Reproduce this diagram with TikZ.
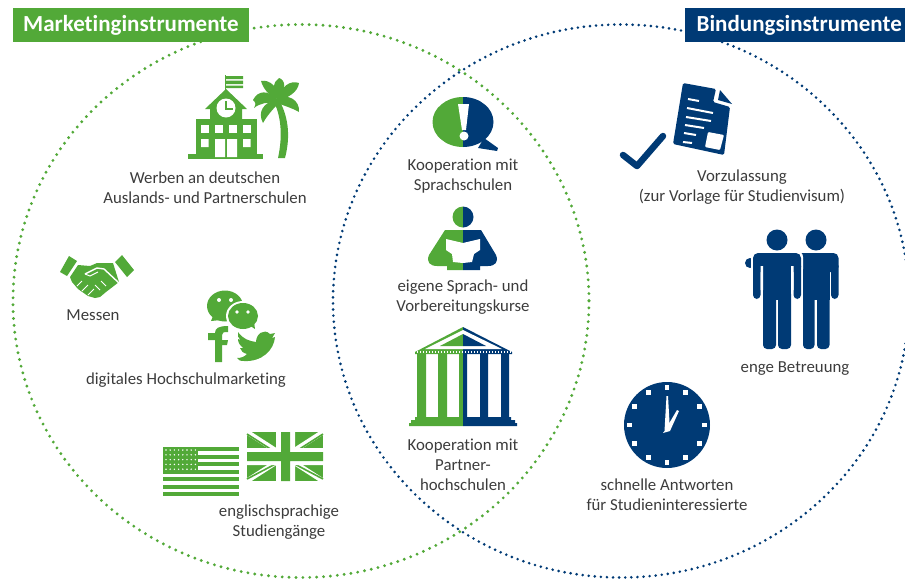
\documentclass[tikz,border=0pt]{standalone}
\usepackage{fontspec}
\usetikzlibrary{calc}
\setmainfont{Carlito}[Ligatures=NoCommon]
\definecolor{hgreen}{HTML}{52A938}
\definecolor{hblue}{HTML}{003A75}
\definecolor{txt}{HTML}{3C3C3C}
\tikzset{
 lab/.style={text=txt,align=center,font=\fontsize{16.8}{20}\selectfont,inner sep=0pt},
 head/.style={text=white,font=\fontsize{23}{26}\selectfont\bfseries,inner sep=0pt,minimum height=34.5pt,anchor=north west},
 ring/.style={line cap=round},
 gf/.style={fill=hgreen,draw=none},
 bf/.style={fill=hblue,draw=none},
 wf/.style={fill=white,draw=none},
}
\begin{document}
\begin{tikzpicture}[x=1pt,y=-1pt]
\useasboundingbox (0,0) rectangle (905,579);
% rings
\draw[ring,hgreen,line width=3.2pt,dash pattern=on 0pt off 6.9pt] (301,301) ellipse[x radius=288,y radius=276.5];
\draw[ring,hblue,line width=2.9pt,dash pattern=on 0pt off 6.1pt] (621,301) ellipse[x radius=288,y radius=276.5];
% headers
\node[head,fill=hgreen,minimum width=235.5pt] (hm) at (13,7.5) {\raisebox{-1pt}{Marketinginstrumente}};
\node[head,fill=hblue,minimum width=228pt] (hb) at (685,7.5) {\raisebox{-1pt}{Bindungsinstrumente}};
% school
\fill[gf] (188,154) rectangle (263,159);
\fill[gf] (196,119) rectangle (257,155);
\fill[gf] (226,89) -- (247,109) -- (242,109) -- (242,120) -- (210,120) -- (210,109) -- (205,109) -- cycle;
\fill[gf] (225,75) rectangle (226,90);
\fill[gf] (226,76) rectangle (243,79) (226,80.5) rectangle (243,84) (226,85.5) rectangle (243,88);
\fill[wf] (226,108) circle[radius=9.5];
\draw[hgreen,line width=1.2pt] (226,101) -- (226,109) -- (233,109);
\foreach \a in {201,215,229,243} \fill[wf] (\a,125) rectangle ++(7.5,8);
\fill[wf] (201,139) rectangle ++(7.5,8) (243,139) rectangle ++(7.5,8);
\fill[wf] (215,139) rectangle (225,157) (227,139) rectangle (237,157);
% palm
\fill[gf] (278,98) .. controls (288,115) and (291,135) .. (285,158) -- (278,158) .. controls (283,135) and (281,115) .. (273,100) -- cycle;
\fill[gf] (277,99) .. controls (268,90) and (258,90) .. (253,100) .. controls (256,103) and (256,104) .. (254,108) .. controls (260,103) and (268,102) .. (275,103) -- cycle;
\fill[gf] (277,99) .. controls (268,95) and (263,88) .. (261,81) .. controls (270,79) and (278,88) .. (279,97) -- cycle;
\fill[gf] (277,99) .. controls (272,90) and (273,82) .. (279,78) .. controls (286,80) and (286,90) .. (279,98) -- cycle;
\fill[gf] (277,99) .. controls (282,86) and (290,80) .. (299,83) .. controls (298,92) and (288,98) .. (279,100) -- cycle;
\fill[gf] (277,99) .. controls (288,93) and (300,100) .. (299,112) .. controls (292,108) and (285,106) .. (277,103) -- cycle;
\fill[gf] (276,100) .. controls (264,102) and (257,112) .. (263,123) .. controls (267,116) and (272,110) .. (278,104) -- cycle;
% handshake
\fill[gf] (69,256) -- (77,261) -- (67,276) -- (60,272) -- cycle;
\fill[gf] (122,255) -- (134,270) -- (127,277) -- (115,262) -- cycle;
\fill[gf] (78,265) -- (90,266) -- (97,263) -- (113,263) -- (119,282) -- (106,292) -- (100,297) -- (95,298) -- (88,296) -- (78,289) -- (72,282) -- (70,277) -- cycle;
\draw[white,line width=1.4pt] (85,274) -- (97,268) -- (104,269) -- (119,283);
\draw[white,line width=1pt] (85,274) -- (90,276) -- (98,272);
\draw[white,line width=1pt] (77,286) -- (82,281) (82,291) -- (88,285) (88,295) -- (94,289) (100,290) -- (95,285) (106,286) -- (101,281);
% social
\fill[gf] (225,306) ellipse[x radius=18,y radius=15.5];
\fill[gf] (213,316) -- (211,321) -- (221,320) -- cycle;
\fill[wf] (243,316) ellipse[x radius=17,y radius=15];
\fill[gf] (243,316) ellipse[x radius=15,y radius=13];
\fill[gf] (249,325) -- (255,329) -- (254,322) -- cycle;
\fill[wf] (219,300) circle[radius=2] (231,300) circle[radius=2] (237,312) circle[radius=1.8] (248,312) circle[radius=1.8];
\fill[gf] (215,362) -- (215,340) -- (208,340) -- (208,333) -- (215,333) .. controls (215,328) and (219,326) .. (228,326) -- (228,332) .. controls (224,332) and (222,332) .. (222,335) -- (222,340) -- (228,340) -- (227,345) -- (222,345) -- (222,362) -- cycle;
\fill[gf] (238,332) .. controls (243,339) and (249,341) .. (256,342) .. controls (256,334) and (264,328) .. (270,334) -- (275,333) -- (272,338) -- (275,337) .. controls (274,350) and (262,362) .. (244,361) .. controls (240,361) and (238,360) .. (237,358) .. controls (241,358) and (244,357) .. (247,354) .. controls (243,353) and (241,351) .. (240,348) -- (243,348) .. controls (240,345) and (238,343) .. (238,339) -- (241,340) .. controls (238,338) and (237,335) .. (238,332) -- cycle;
% US flag
\foreach \a in {447,454.5,462,469.5,477,484.5,492} \fill[gf] (163,\a) rectangle (239,\a+4);
\fill[gf] (163,447) rectangle (198,472);
\foreach \p in {0,...,4} \foreach \q in {0,...,7} \fill[wf] (166+\q*4.2,450+\p*4.8) circle[radius=.8];
% UK flag
\fill[gf] (247,432) rectangle (323,481);
\draw[white,line width=5pt] (247,432) -- (323,481) (323,432) -- (247,481);
\draw[hgreen,line width=1.6pt] (247,434) -- (283,457) (287,460) -- (323,479) (323,434) -- (287,457) (283,460) -- (247,479);
\fill[wf] (276,432) rectangle (295,481) (247,448) rectangle (323,465);
\fill[gf] (281,432) rectangle (290,481) (247,452) rectangle (323,461);
% speech bubble
\fill[hgreen] (463,97) arc[start angle=-90,end angle=-270,x radius=30.5,y radius=25] -- cycle;
\fill[hblue] (463,97) arc[start angle=-90,end angle=90,x radius=30.5,y radius=25] -- (463,147) -- cycle;
\fill[hblue] (484,138) -- (498,148) -- (497,151) -- (478,148) -- cycle;
\fill[wf] (458,104) -- (469,104) -- (466,130) -- (462,130) -- cycle;
\fill[wf] (464,136) circle[radius=4.5];
% reader
\fill[hgreen] (463,206.5) arc[start angle=-90,end angle=-270,radius=10.5] -- cycle;
\fill[hblue] (463,206.5) arc[start angle=-90,end angle=90,radius=10.5] -- cycle;
\fill[hgreen] (463,230) -- (445,230) -- (429,255) .. controls (426,262) and (430,266) .. (437,266) -- (447,266) -- (447,270) -- (463,270) -- cycle;
\fill[hblue] (463,230) -- (481,230) -- (496,255) .. controls (499,262) and (495,266) .. (488,266) -- (480,266) -- (480,270) -- (463,270) -- cycle;
\fill[wf] (446,239) -- (463,243) -- (480,239) -- (480,250) -- (474,254) -- (472,262) -- (463,263) -- (453,262) -- (452,254) -- (446,250) -- cycle;
% temple
\fill[hgreen] (463,327) -- (415,352) -- (415,354) -- (463,354) -- cycle;
\fill[hblue] (463,327) -- (512,352) -- (512,354) -- (463,354) -- cycle;
\fill[wf] (463,330) -- (425,349) -- (502,349) -- cycle;
\fill[hgreen] (463,334) -- (440,346) -- (463,346) -- cycle;
\fill[hblue] (463,334) -- (486,346) -- (463,346) -- cycle;
\fill[hgreen] (417,353) rectangle (426,418) (438,353) rectangle (447,418) (459,353) rectangle (463,418);
\fill[hblue] (463,353) rectangle (467,418) (480,353) rectangle (488,418) (501,353) rectangle (509,418);
\foreach \a in {417,420,...,510} \fill[wf] (\a,350.5) rectangle ++(1.2,2);
\fill[hgreen] (415,417) rectangle (463,420) (411,420) rectangle (463,423) (409,423) rectangle (463,426);
\fill[hblue] (463,417) rectangle (511,420) (463,420) rectangle (515,423) (463,423) rectangle (517,426);
% check and document
\draw[hblue,line width=6.5pt,line cap=round,line join=round] (623,155) -- (637,166) -- (663,136);
\fill[bf,rounded corners=1.5pt] (683,83) -- (716,89) -- (713,102) -- (730,107) -- (724,155) -- (673,144) -- cycle;
\fill[bf] (720,90) -- (732,104) -- (718,100) -- cycle;
\draw[white,line width=2pt] (688,99) -- (699,101) (687,108) -- (713,113) (686,117) -- (711,121) (685,125) -- (704,128) (684,133) -- (696,135) (683,142) -- (692,143);
\fill[wf,rounded corners=1pt] (708,132) -- (724,135) -- (720,150) -- (705,147) -- cycle;
% people
\fill[bf] (777,240) circle[radius=10.5];
\fill[bf] (816,240) circle[radius=10.5];
\begin{scope}
\clip (740,250) rectangle (752,275);
\fill[bf] (750,263) circle[radius=5];
\end{scope}
% second person
\fill[bf,rounded corners=5pt] (796,253) rectangle (838.5,272);
\fill[bf] (803,262) rectangle (829.5,300);
\fill[bf,rounded corners=4pt] (831,262) rectangle (838.5,299);
\fill[bf,rounded corners=4pt] (803,290) rectangle (814.5,349);
\fill[bf,rounded corners=4pt] (817,290) rectangle (829.5,349);
% first person with a white edge
\fill[wf,rounded corners=6pt] (751,251) rectangle (803,275);
\fill[wf] (801,262) rectangle (803,349);
\fill[bf,rounded corners=5pt] (753,253) rectangle (801,272);
\fill[bf] (763,262) rectangle (791,300);
\fill[bf,rounded corners=4pt] (753,262) rectangle (760.5,299);
\fill[bf,rounded corners=4pt] (793.5,262) rectangle (801,299);
\fill[bf,rounded corners=4pt] (763,290) rectangle (776,349);
\fill[bf,rounded corners=4pt] (778,290) rectangle (791,349);
\fill[wf] (760.5,266) rectangle (763,290) (791,266) rectangle (793.5,290);
% clock
\fill[bf] (667,425) circle[radius=43];
\foreach \a in {0,30,...,330} \fill[wf] ($(667,425)+(\a:37.5)+(-2.4,-2.4)$) rectangle ++(4.8,4.8);
\fill[wf] (664.5,431) -- (666.5,396) -- (668,396) -- (670,431) -- (663,433) -- cycle;
\fill[wf] (667,427) -- (677,410) -- (679,411) -- (670,431) -- cycle;
% labels
\node[lab] (l1) at (205,188) {Werben an deutschen\\Auslands- und Partnerschulen};
\node[lab] (l2) at (93,315) {Messen};
\node[lab] (l3) at (186,380) {digitales Hochschulmarketing};
\node[lab] (l4) at (279,522) {englischsprachige\\Studiengänge};
\node[lab] (l5) at (463,176) {Kooperation mit\\Sprachschulen};
\node[lab] (l6) at (463,297) {eigene Sprach- und\\Vorbereitungskurse};
\node[lab] (l7) at (463,465) {Kooperation mit\\Partner-\\hochschulen};
\node[lab] (l8) at (742,187) {Vorzulassung\\(zur Vorlage für Studienvisum)};
\node[lab] (l9) at (795,369) {enge Betreuung};
\node[lab] (l10) at (667,495) {schnelle Antworten\\für Studieninteressierte};
\end{tikzpicture}
\end{document}
